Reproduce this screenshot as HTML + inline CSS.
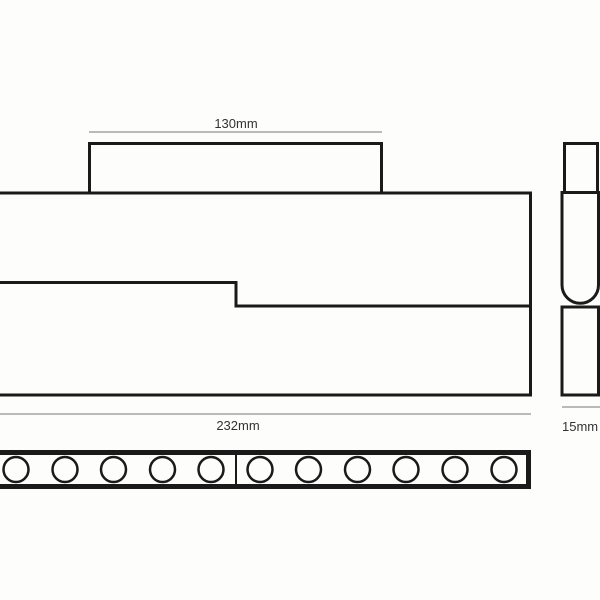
<!DOCTYPE html>
<html><head><meta charset="utf-8"><style>
html,body{margin:0;padding:0;background:#fdfdfb;}
svg{display:block}
text{font-family:"Liberation Sans",sans-serif;font-size:13px;fill:#333}
</style></head><body>
<svg width="600" height="600" viewBox="0 0 600 600" xmlns="http://www.w3.org/2000/svg">
<rect width="600" height="600" fill="#fdfdfb"/>
<line x1="89" y1="132" x2="382" y2="132" stroke="#777" stroke-width="1"/>
<text x="236" y="128" text-anchor="middle">130mm</text>
<path d="M89.5 193 V143.5 H381.5 V193" fill="none" stroke="#1a1a1a" stroke-width="3"/>
<path d="M0 193 H530.5 V395 H0" fill="none" stroke="#1a1a1a" stroke-width="3"/>
<path d="M0 282.5 H236 V306 H530" fill="none" stroke="#1a1a1a" stroke-width="3"/>
<line x1="0" y1="414" x2="531" y2="414" stroke="#777" stroke-width="1"/>
<text x="238" y="430" text-anchor="middle">232mm</text>
<rect x="564.5" y="143.5" width="33" height="49" fill="none" stroke="#1a1a1a" stroke-width="3"/>
<path d="M562 192.5 H598.5 V285 A18 18 0 0 1 562 285 Z" fill="none" stroke="#1a1a1a" stroke-width="3"/>
<rect x="562" y="307" width="36.5" height="88" fill="none" stroke="#1a1a1a" stroke-width="3"/>
<line x1="562" y1="407" x2="600" y2="407" stroke="#777" stroke-width="1"/>
<text x="562" y="431">15mm</text>
<rect x="-5" y="452.5" width="533.5" height="34" fill="none" stroke="#1a1a1a" stroke-width="5"/>
<line x1="236" y1="455" x2="236" y2="484" stroke="#1a1a1a" stroke-width="2"/>
<g fill="none" stroke="#1a1a1a" stroke-width="2.5">
<circle cx="16" cy="469.5" r="12.5"/>
<circle cx="65" cy="469.5" r="12.5"/>
<circle cx="113.5" cy="469.5" r="12.5"/>
<circle cx="162.5" cy="469.5" r="12.5"/>
<circle cx="211" cy="469.5" r="12.5"/>
<circle cx="260" cy="469.5" r="12.5"/>
<circle cx="308.5" cy="469.5" r="12.5"/>
<circle cx="357.5" cy="469.5" r="12.5"/>
<circle cx="406" cy="469.5" r="12.5"/>
<circle cx="455" cy="469.5" r="12.5"/>
<circle cx="504" cy="469.5" r="12.5"/>
</g>
</svg>
</body></html>
